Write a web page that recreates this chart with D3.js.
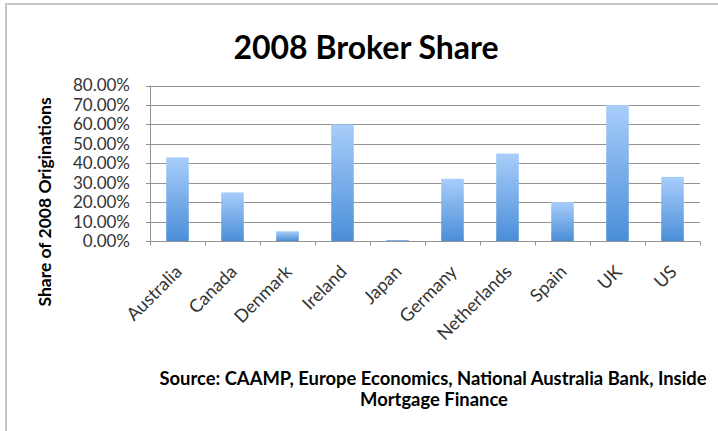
<!DOCTYPE html>
<html>
<head>
  <meta charset="UTF-8">
  <style>
      body { margin: 0; background: #fff; }
      svg { display: block; font-family: Lato, "Open Sans", sans-serif; }
  </style>
</head>
<body>
<svg></svg>
<script src="https://d3js.org/d3.v7.min.js"></script>
<script>

let width = 718, height = 431;

// data
let countries = ["Australia", "Canada", "Denmark", "Ireland", "Japan", "Germany", "Netherlands", "Spain", "UK", "US"];
let share = [0.43, 0.25, 0.05, 0.60, 0.005, 0.32, 0.45, 0.20, 0.70, 0.33];
let yTicks = [0, 0.1, 0.2, 0.3, 0.4, 0.5, 0.6, 0.7, 0.8];

let margin = {left: 150, right: 18, top: 85.5, bottom: 190};

let svg = d3.select("svg")
    .attr("width", width)
    .attr("height", height);

// chart frame (only left and top edges show)
svg.append("rect")
    .attr("x", 6).attr("y", 4)
    .attr("width", width + 10).attr("height", height + 10)
    .attr("fill", "none")
    .attr("stroke", "#c6c6c6")
    .attr("stroke-width", 2);

let defs = svg.append("defs");
let grad = defs.append("linearGradient")
    .attr("id", "barGrad")
    .attr("x1", 0).attr("y1", 0).attr("x2", 0).attr("y2", 1);
grad.append("stop").attr("offset", "0%").attr("stop-color", "#a8cdfa");
grad.append("stop").attr("offset", "100%").attr("stop-color", "#4a8ed8");

let x = d3.scaleBand()
    .domain(countries)
    .range([margin.left, width - margin.right])
    .paddingInner(0.59)
    .paddingOuter(0.295);

let xTicks = d3.scaleBand()
    .domain(countries)
    .range([margin.left, width - margin.right]);

let y = d3.scaleLinear()
    .domain([0, 0.8])
    .range([height - margin.bottom, margin.top]);

// gridlines
svg.append("g")
    .selectAll("line")
    .data(yTicks)
    .enter()
    .append("line")
    .attr("x1", margin.left - 4)
    .attr("x2", width - margin.right)
    .attr("y1", d => Math.round(y(d)) + 0.5)
    .attr("y2", d => Math.round(y(d)) + 0.5)
    .attr("stroke", "#939393")
    .attr("stroke-width", 1);

// y labels
svg.append("g")
    .selectAll("text")
    .data(yTicks)
    .enter()
    .append("text")
    .attr("x", margin.left - 20)
    .attr("y", d => y(d))
    .attr("dy", "0.35em")
    .attr("text-anchor", "end")
    .style("font-size", "17px")
    .attr("fill", "#333")
    .text(d3.format(".2%"));

// bars
svg.append("g")
    .selectAll("rect")
    .data(share)
    .enter()
    .append("rect")
    .attr("x", (d, i) => x(countries[i]))
    .attr("y", d => y(d))
    .attr("width", x.bandwidth())
    .attr("height", d => y(0) - y(d))
    .attr("fill", "url(#barGrad)");

// axis lines
let y0 = Math.round(y(0)) + 0.5;
svg.append("line")
    .attr("x1", margin.left + 0.5).attr("x2", margin.left + 0.5)
    .attr("y1", y(0.8)).attr("y2", y0)
    .attr("stroke", "#939393");

svg.append("g")
    .selectAll("line")
    .data(countries.concat([null]))
    .enter()
    .append("line")
    .attr("x1", (d, i) => Math.round(margin.left + i * xTicks.bandwidth()) + 0.5)
    .attr("x2", (d, i) => Math.round(margin.left + i * xTicks.bandwidth()) + 0.5)
    .attr("y1", y0)
    .attr("y2", y0 + 4)
    .attr("stroke", "#939393");

// x labels
svg.append("g")
    .selectAll("text")
    .data(countries)
    .enter()
    .append("text")
    .attr("transform", d => "translate(" + (x(d) + x.bandwidth() / 2 + 1) + "," + (y0 + 27) + ") rotate(-45)")
    .attr("text-anchor", "end")
    .attr("dy", "0.35em")
    .style("font-size", "18px")
    .attr("fill", "#333")
    .text(d => d);

// title
svg.append("text")
    .attr("x", 366)
    .attr("y", 59)
    .attr("text-anchor", "middle")
    .style("font-size", "32px")
    .style("font-weight", "bold")
    .text("2008 Broker Share");

// y axis title
svg.append("text")
    .attr("transform", "translate(51,202) rotate(-90)")
    .attr("text-anchor", "middle")
    .style("font-size", "17.5px")
    .style("font-weight", "bold")
    .text("Share of 2008 Originations");

// source note
let source = svg.append("text")
    .attr("text-anchor", "middle")
    .style("font-size", "18.4px")
    .style("font-weight", "bold");
source.append("tspan").attr("x", 433).attr("y", 385)
    .text("Source:  CAAMP, Europe Economics, National Australia Bank, Inside");
source.append("tspan").attr("x", 434).attr("y", 406)
    .text("Mortgage Finance");

</script>
</body>
</html>
